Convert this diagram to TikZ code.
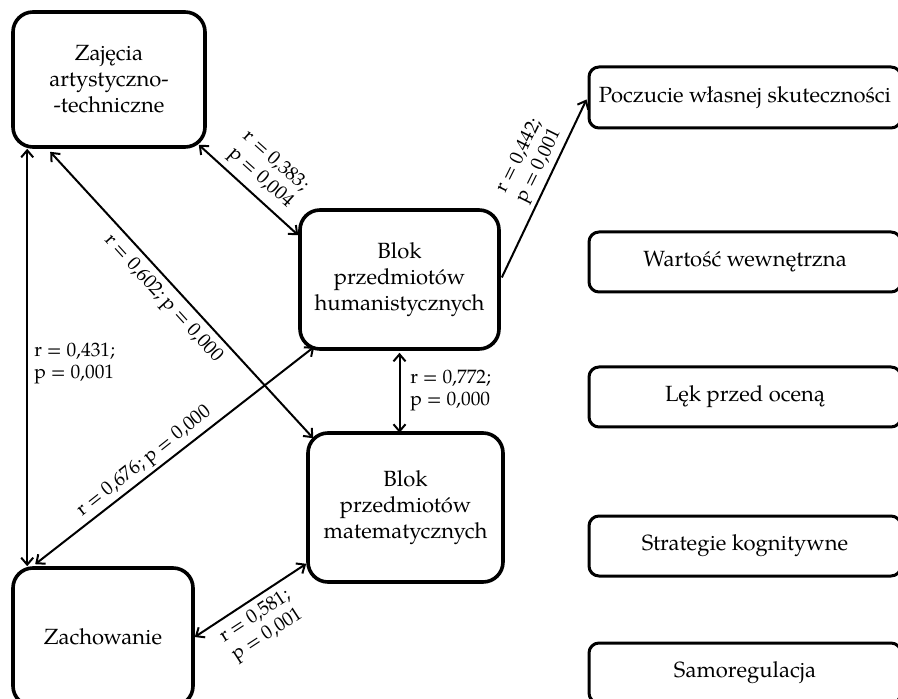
\documentclass[tikz,border=0pt]{standalone}
\usepackage{fontspec}
\setmainfont{texgyrepagella}[Extension=.otf, UprightFont=*-regular, BoldFont=*-bold, ItalicFont=*-italic, BoldItalicFont=*-bolditalic]
\usetikzlibrary{arrows.meta,calc}
\tikzset{
  bigbox/.style={draw, line width=1.8pt, rounded corners=10pt, align=center, inner sep=0pt,
    font=\fontsize{11}{13}\selectfont},
  rbox/.style={draw, line width=1.5pt, rounded corners=5pt, align=center, inner sep=0pt,
    minimum width=156pt, minimum height=30pt, font=\fontsize{11}{13}\selectfont},
  lab/.style={inner sep=0pt, font=\fontsize{9.7}{11}\selectfont},
  conn/.style={line width=1pt, {Straight Barb[length=3.5pt,width=6pt]}-{Straight Barb[length=3.5pt,width=6pt]}},
  oneway/.style={line width=1pt, -{Straight Barb[length=3.5pt,width=6pt]}}
}
\begin{document}
\begin{tikzpicture}[x=0.5pt,y=-0.5pt]
\useasboundingbox (0,0) rectangle (898,699);
\clip (0,0) rectangle (898,699);
% boxes
\node[bigbox, minimum width=96pt, minimum height=67.5pt] (zaj) at (109,79.5) {Zajęcia\\artystyczno-\\-techniczne};
\node[bigbox, minimum width=99.5pt, minimum height=69.5pt] (hum) at (399.5,279.5) {Blok\\przedmiotów\\humanistycznych};
\node[bigbox, minimum width=97.5pt, minimum height=74.5pt] (mat) at (405.5,507.5) {Blok\\przedmiotów\\matematycznych};
\node[bigbox, minimum width=90pt, minimum height=69pt] (zach) at (103,637) {Zachowanie};
\node[rbox, minimum height=30.5pt] (poc) at (745,97.5) {Poczucie własnej skuteczności};
\node[rbox] (war) at (745,262) {Wartość wewnętrzna};
\node[rbox] (lek) at (745,397) {Lęk przed oceną};
\node[rbox] (str) at (745,546) {Strategie kognitywne};
\node[rbox] (sam) at (745,673) {Samoregulacja};
% connectors
\draw[conn] ($(zaj.south west)+(16,0)$) -- ($(zach.north west)+(16,0)$);
\draw[conn] ($(zaj.south west)+(39,3)$) -- ($(mat.north west)+(7,7)$);
\draw[conn] ($(zaj.south east)+(-8,-4)$) -- ($(hum.north west)+(0,27)$);
\draw[oneway] ($(hum.east)+(1,-2)$) -- ($(poc.west)+(-1,2)$);
\draw[conn] ($(hum.south)+(0,2)$) -- ($(hum.south)+(0,82)$);
\draw[conn] ($(zach.north west)+(24,-2)$) -- ($(hum.south west)+(16,-4)$);
\draw[conn] (zach.east) -- ($(mat.south west)+(0,-20)$);
% labels
\node[lab, align=center, rotate=-42] (l383) at (268,170) {r = 0,383;\\p = 0,004};
\node[lab, rotate=-47.8] (l602) at (163,299) {r = 0,602; p = 0,000};
\node[lab, rotate=38.4] (l676) at (145,462) {r = 0,676; p = 0,000};
\node[lab, align=center, rotate=33] (l581) at (262,626) {r = 0,581;\\p = 0,001};
\node[lab, align=center, rotate=63.6] (l442) at (530,161) {r = 0,442;\\p = 0,001};
\node[lab, align=left, anchor=west] (l431) at (34,363) {r = 0,431;\\p = 0,001};
\node[lab, align=left, anchor=west] (l772) at (410,391) {r = 0,772;\\p = 0,000};
\end{tikzpicture}
\end{document}
